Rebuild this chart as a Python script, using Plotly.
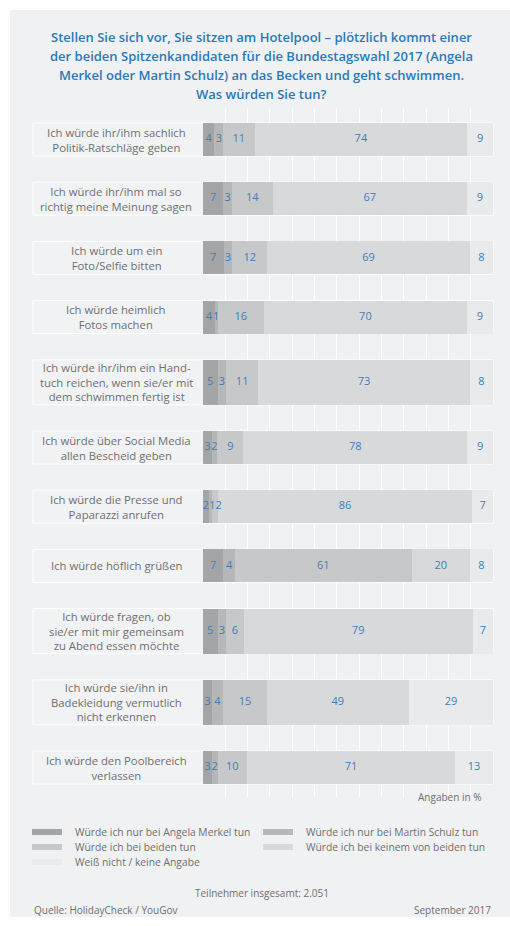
import plotly.graph_objects as go

# ---------------- data ----------------
categories = [
    "Ich würde ihr/ihm sachlich<br>Politik-Ratschläge geben",
    "Ich würde ihr/ihm mal so<br>richtig meine Meinung sagen",
    "Ich würde um ein<br>Foto/Selfie bitten",
    "Ich würde heimlich<br>Fotos machen",
    "Ich würde ihr/ihm ein Hand-<br>tuch reichen, wenn sie/er mit<br>dem schwimmen fertig ist",
    "Ich würde über Social Media<br>allen Bescheid geben",
    "Ich würde die Presse und<br>Paparazzi anrufen",
    "Ich würde höflich grüßen",
    "Ich würde fragen, ob<br>sie/er mit mir gemeinsam<br>zu Abend essen möchte",
    "Ich würde sie/ihn in<br>Badekleidung vermutlich<br>nicht erkennen",
    "Ich würde den Poolbereich<br>verlassen",
]
series_names = [
    "Würde ich nur bei Angela Merkel tun",
    "Würde ich nur bei Martin Schulz tun",
    "Würde ich bei beiden tun",
    "Würde ich bei keinem von beiden tun",
    "Weiß nicht / keine Angabe",
]
merkel = [4, 7, 7, 4, 5, 3, 2, 7, 5, 3, 3]
schulz = [3, 3, 3, 1, 3, 2, 1, 4, 3, 4, 2]
beiden = [11, 14, 12, 16, 11, 9, 2, 61, 6, 15, 10]
keinem = [74, 67, 69, 70, 73, 78, 86, 20, 79, 49, 71]
weiss = [9, 9, 8, 9, 8, 9, 7, 8, 7, 29, 13]
series_values = [merkel, schulz, beiden, keinem, weiss]

title_lines = [
    "Stellen Sie sich vor, Sie sitzen am Hotelpool – plötzlich kommt einer",
    "der beiden Spitzenkandidaten für die Bundestagswahl 2017 (Angela",
    "Merkel oder Martin Schulz) an das Becken und geht schwimmen.",
    "Was würden Sie tun?",
]

# ---------------- styling ----------------
colors = ["#a4a5a7", "#b6b7b9", "#c7c8ca", "#d8d9db", "#e9eaec"]
W, H = 510, 926
PL, PR, PT, PB = 203, 493, 108, 797   # plot area in pixels
FONT = "Open Sans"
TXT_BLUE = "#3f7db8"
GRAY = "#6f6f6f"
VAL_SIZE = 11

def px_x(px):
    return (px - PL) / (PR - PL)

def px_y(py):
    return (PB - py) / (PB - PT)

# row geometry (pixel space, y measured from the top)
n_lines = [c.count("<br>") + 1 for c in categories]
row_h = [33 if n <= 2 else 45 for n in n_lines]
gap = 26.2
tops = []
cur = 123
for h in row_h:
    tops.append(cur)
    cur += h + gap
centers = [t + h / 2 for t, h in zip(tops, row_h)]

fig = go.Figure()

totals = [sum(v[i] for v in series_values) for i in range(len(categories))]

for name, vals, col in zip(series_names, series_values, colors):
    fig.add_trace(go.Bar(
        name=name, y=centers, x=vals, width=row_h, orientation="h",
        marker=dict(color=col, line=dict(width=0)),
        showlegend=False, hoverinfo="skip",
    ))

# value labels centered in each segment (normalized to percent),
# nudged apart where tiny neighbouring segments would make them collide
unit_px = (PR - PL) / 100.0
char_w = 0.58 * VAL_SIZE
label_x = [[0.0] * len(categories) for _ in series_values]
for i in range(len(categories)):
    cum = 0
    prev_x = None
    prev_w = 0
    for s, vals in enumerate(series_values):
        v = vals[i]
        x = (cum + v / 2) / totals[i] * 100
        cum += v
        w = char_w * len(str(v))
        if prev_x is not None:
            min_sep = (prev_w + w) / 2 / unit_px
            if x - prev_x < min_sep:
                x = prev_x + min_sep
        label_x[s][i] = x
        prev_x, prev_w = x, w

for s, vals in enumerate(series_values):
    fig.add_trace(go.Scatter(
        x=label_x[s], y=centers, mode="text", text=[str(v) for v in vals],
        textfont=dict(family=FONT, size=VAL_SIZE, color=TXT_BLUE),
        showlegend=False, hoverinfo="skip", cliponaxis=False,
    ))

shapes = []
# card background
shapes.append(dict(type="rect", xref="paper", yref="paper",
                   x0=px_x(10), x1=px_x(515), y0=px_y(917), y1=px_y(10),
                   fillcolor="#eff1f3", line=dict(width=0), layer="below"))
# row boxes
for t, h in zip(tops, row_h):
    shapes.append(dict(type="rect", xref="paper", yref="paper",
                       x0=px_x(33), x1=px_x(493), y0=px_y(t + h), y1=px_y(t),
                       fillcolor="#f1f2f4", line=dict(color="#ffffff", width=1),
                       layer="below"))

annotations = []
for c, y in zip(categories, centers):
    annotations.append(dict(x=px_x(116), xref="paper", y=y, yref="y",
                            text=c, showarrow=False, align="center",
                            xanchor="center", yanchor="middle",
                            font=dict(family=FONT, size=11.3, color=GRAY)))

for k, line in enumerate(title_lines):
    annotations.append(dict(x=px_x(261), xref="paper", y=px_y(37 + 19 * k), yref="paper",
                            text=line, showarrow=False, xanchor="center", yanchor="middle",
                            font=dict(family=FONT, size=13, color="#2b79b9", weight=600)))

annotations.append(dict(x=px_x(483), xref="paper", y=px_y(797), yref="paper",
                        text="Angaben in %", showarrow=False, xanchor="right",
                        yanchor="middle", font=dict(family=FONT, size=10, color=GRAY)))

# custom legend
leg_pos = [(32, 832), (263, 832), (32, 847), (263, 847), (32, 862)]
for (lx, ly), name, col in zip(leg_pos, series_names, colors):
    shapes.append(dict(type="rect", xref="paper", yref="paper",
                       x0=px_x(lx), x1=px_x(lx + 30), y0=px_y(ly + 3), y1=px_y(ly - 3),
                       fillcolor=col, line=dict(width=0)))
    annotations.append(dict(x=px_x(lx + 41), xref="paper", y=px_y(ly), yref="paper",
                            text=name, showarrow=False, xanchor="left", yanchor="middle",
                            font=dict(family=FONT, size=10.3, color=GRAY)))

annotations.append(dict(x=px_x(262), xref="paper", y=px_y(893), yref="paper",
                        text="Teilnehmer insgesamt: 2.051", showarrow=False,
                        xanchor="center", yanchor="middle",
                        font=dict(family=FONT, size=10, color=GRAY)))
annotations.append(dict(x=px_x(32), xref="paper", y=px_y(910), yref="paper",
                        text="Quelle: HolidayCheck / YouGov", showarrow=False,
                        xanchor="left", yanchor="middle",
                        font=dict(family=FONT, size=10, color=GRAY)))
annotations.append(dict(x=px_x(493), xref="paper", y=px_y(910), yref="paper",
                        text="September 2017", showarrow=False,
                        xanchor="right", yanchor="middle",
                        font=dict(family=FONT, size=10, color=GRAY)))

grid_ticks = [100 / 13 * k for k in range(14)]

fig.update_layout(
    width=W, height=H,
    margin=dict(l=PL, r=W - PR, t=PT, b=H - PB, pad=0),
    barmode="stack", barnorm="percent", bargap=0,
    paper_bgcolor="#ffffff", plot_bgcolor="rgba(0,0,0,0)",
    xaxis=dict(range=[0, 100], tickvals=grid_ticks, showticklabels=False,
               showgrid=True, gridcolor="#ffffff", gridwidth=1, zeroline=False,
               showline=False, fixedrange=True),
    yaxis=dict(range=[PB, PT], showticklabels=False, showgrid=False,
               zeroline=False, showline=False, fixedrange=True),
    shapes=shapes, annotations=annotations, showlegend=False,
    font=dict(family=FONT),
)

fig.write_html("out.html")
